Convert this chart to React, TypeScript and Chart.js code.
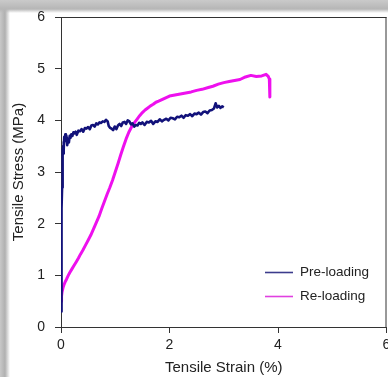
import React, { useEffect, useRef } from "react";
import { Chart, registerables } from "chart.js";

Chart.register(...registerables);

const seriesLabels = ["Pre-loading", "Re-loading"];
const seriesColors = ["#12127a", "#ee10ee"];
const legendColors = ["#3c3c8c", "#e040e0"];

const preStrain = [
  0.0, 0.004, 0.008, 0.012, 0.016, 0.02, 0.024, 0.028, 0.032, 0.036, 0.04, 0.045, 0.05, 0.055, 0.06,
  0.07, 0.08, 0.09, 0.1, 0.115, 0.13, 0.145, 0.16, 0.175, 0.19, 0.21, 0.23, 0.25, 0.27, 0.29, 0.32,
  0.35, 0.38, 0.41, 0.44, 0.47, 0.5, 0.53, 0.56, 0.59, 0.62, 0.65, 0.68, 0.71, 0.74, 0.77, 0.8, 0.83,
  0.86, 0.88, 0.9, 0.93, 0.96, 0.99, 1.02, 1.05, 1.08, 1.11, 1.14, 1.17, 1.2, 1.23, 1.26, 1.29, 1.32,
  1.35, 1.38, 1.41, 1.44, 1.47, 1.5, 1.54, 1.58, 1.62, 1.66, 1.7, 1.74, 1.78, 1.82, 1.86, 1.9, 1.94,
  1.98, 2.02, 2.06, 2.1, 2.14, 2.18, 2.22, 2.26, 2.3, 2.34, 2.38, 2.42, 2.46, 2.5, 2.54, 2.58, 2.62,
  2.66, 2.7, 2.74, 2.78, 2.82, 2.85, 2.88, 2.91, 2.94, 2.97, 3.0,
];
const preStress = [
  0.3, 0.75, 1.3, 1.85, 2.3, 2.7, 2.95, 3.15, 3.3, 3.42, 3.5, 3.36, 3.58, 3.44, 3.68,
  3.62, 3.73, 3.6, 3.7, 3.52, 3.64, 3.57, 3.7, 3.66, 3.73, 3.7, 3.77, 3.75, 3.78, 3.72, 3.8,
  3.79, 3.83, 3.78, 3.85, 3.84, 3.87, 3.83, 3.9, 3.91, 3.88, 3.94, 3.92, 3.96, 3.95, 3.98, 3.97, 4.01,
  3.98, 3.89, 3.86, 3.84, 3.81, 3.88, 3.83, 3.9, 3.93, 3.89, 3.96, 3.97, 3.93, 4.0, 3.98, 3.92, 3.94,
  3.88, 3.91, 3.9, 3.95, 3.93, 3.96, 3.91, 3.97, 3.96, 3.99, 3.93, 3.98, 3.97, 4.02, 3.98, 4.01, 4.03,
  4.0, 4.05, 4.04, 4.02, 4.07, 4.06, 4.09, 4.05, 4.1, 4.09, 4.12, 4.08, 4.13, 4.12, 4.15, 4.11, 4.16,
  4.17, 4.14, 4.19, 4.2, 4.23, 4.33, 4.25, 4.28, 4.24, 4.27, 4.25,
];

const reStrain = [
  0.0, 0.01, 0.02, 0.04, 0.06, 0.08, 0.1, 0.13, 0.16, 0.2, 0.24, 0.28, 0.32, 0.36, 0.4, 0.45, 0.5,
  0.55, 0.6, 0.65, 0.7, 0.75, 0.8, 0.85, 0.9, 0.95, 1.0, 1.05, 1.1, 1.15, 1.2, 1.25, 1.3, 1.35, 1.4,
  1.45, 1.5, 1.55, 1.6, 1.65, 1.7, 1.75, 1.8, 1.9, 2.0, 2.1, 2.2, 2.3, 2.4, 2.5, 2.6, 2.7, 2.8, 2.9,
  3.0, 3.1, 3.2, 3.3, 3.4, 3.5, 3.6, 3.7, 3.78, 3.82, 3.84, 3.85,
];
const reStress = [
  0.5, 0.6, 0.68, 0.77, 0.83, 0.88, 0.92, 0.99, 1.05, 1.12, 1.19, 1.26, 1.33, 1.41, 1.48, 1.58, 1.68,
  1.78, 1.9, 2.02, 2.14, 2.29, 2.43, 2.57, 2.7, 2.84, 3.0, 3.16, 3.33, 3.49, 3.64, 3.77, 3.87, 3.95, 4.02,
  4.09, 4.15, 4.2, 4.24, 4.28, 4.31, 4.35, 4.37, 4.42, 4.47, 4.49, 4.51, 4.53, 4.55, 4.58, 4.6, 4.63, 4.66, 4.7,
  4.73, 4.75, 4.77, 4.79, 4.84, 4.87, 4.85, 4.86, 4.89, 4.85, 4.8, 4.45,
];

const xTickValues = [0, 2, 4, 6];
const yTickValues = [0, 1, 2, 3, 4, 5, 6];
const xTitle = "Tensile Strain (%)";
const yTitle = "Tensile Stress (MPa)";

const FONT = "'Liberation Sans', Arial, Helvetica, sans-serif";
const TEXT = "#222222";
const AXIS = "#333333";

const toPoints = (xs: number[], ys: number[]) => xs.map((x, i) => ({ x, y: ys[i] }));

const framePlugin = {
  id: "frameAndLegend",
  afterDraw(chart: any) {
    const { ctx, chartArea: a } = chart;
    ctx.save();
    ctx.strokeStyle = AXIS;
    ctx.lineWidth = 1;
    ctx.beginPath();
    ctx.moveTo(a.left, a.top + 0.5);
    ctx.lineTo(a.right, a.top + 0.5);
    ctx.moveTo(a.right - 0.5, a.top);
    ctx.lineTo(a.right - 0.5, a.bottom);
    ctx.stroke();

    // legend (bottom-right inside plot)
    ctx.font = `13.5px ${FONT}`;
    ctx.textBaseline = "middle";
    ctx.textAlign = "left";
    seriesLabels.forEach((label, i) => {
      const y = a.top + 255.5 + i * 24;
      const x0 = a.left + 204;
      ctx.strokeStyle = legendColors[i];
      ctx.lineWidth = 1.6;
      ctx.beginPath();
      ctx.moveTo(x0, y);
      ctx.lineTo(x0 + 28, y);
      ctx.stroke();
      ctx.fillStyle = TEXT;
      ctx.fillText(label, x0 + 35, y);
    });
    ctx.restore();
  },
};

export default function App() {
  const ref = useRef<HTMLCanvasElement | null>(null);

  useEffect(() => {
    if (!ref.current) return;
    const chart = new Chart(ref.current, {
      type: "line",
      data: {
        datasets: [
          {
            label: seriesLabels[0],
            data: toPoints(preStrain, preStress),
            borderColor: seriesColors[0],
            borderWidth: 2.6,
            pointRadius: 0,
            tension: 0,
            borderJoinStyle: "round",
          },
          {
            label: seriesLabels[1],
            data: toPoints(reStrain, reStress),
            borderColor: seriesColors[1],
            borderWidth: 3,
            pointRadius: 0,
            tension: 0,
            borderJoinStyle: "round",
          },
        ],
      },
      options: {
        animation: false,
        responsive: false,
        parsing: false as any,
        layout: { padding: { left: 0, top: 17, right: 1.5, bottom: 0 } },
        plugins: { legend: { display: false }, tooltip: { enabled: false } },
        scales: {
          x: {
            type: "linear",
            min: 0,
            max: 6,
            afterBuildTicks: (s: any) => {
              s.ticks = xTickValues.map((v) => ({ value: v }));
            },
            afterFit: (s: any) => {
              s.height = 50;
              s.paddingLeft = 0;
              s.paddingRight = 0;
            },
            border: { display: true, color: AXIS, width: 1 },
            grid: { display: true, drawOnChartArea: false, drawTicks: true, tickLength: 6, color: AXIS },
            ticks: { color: TEXT, font: { family: FONT, size: 14 }, padding: 4, maxRotation: 0 },
            title: {
              display: true,
              text: xTitle,
              color: TEXT,
              font: { family: FONT, size: 15 },
              padding: { top: 0, bottom: 0 },
            },
          },
          y: {
            type: "linear",
            min: 0,
            max: 6,
            afterBuildTicks: (s: any) => {
              s.ticks = yTickValues.map((v) => ({ value: v }));
            },
            afterFit: (s: any) => {
              s.width = 61;
              s.paddingTop = 0;
              s.paddingBottom = 0;
            },
            border: { display: true, color: AXIS, width: 1 },
            grid: { display: true, drawOnChartArea: false, drawTicks: true, tickLength: 6, color: AXIS },
            ticks: { color: TEXT, font: { family: FONT, size: 14 }, padding: 10 },
            title: {
              display: true,
              text: yTitle,
              color: TEXT,
              font: { family: FONT, size: 15 },
              padding: { top: 10, bottom: 0 },
            },
          },
        },
      },
      plugins: [framePlugin],
    });
    return () => chart.destroy();
  }, []);

  return (
    <div
      style={{
        position: "fixed",
        left: 0,
        top: 0,
        width: 388,
        height: 377,
        background:
          "linear-gradient(to bottom, #cacaca 0px, #b6b6b6 9px, rgba(255,255,255,0) 13px), linear-gradient(to right, #c8c8c8 0px, #b0b0b0 5px, rgba(255,255,255,0) 10px), #ffffff",
        overflow: "hidden",
      }}
    >
      <canvas ref={ref} width={388} height={377} style={{ display: "block", width: 388, height: 377 }} />
    </div>
  );
}
